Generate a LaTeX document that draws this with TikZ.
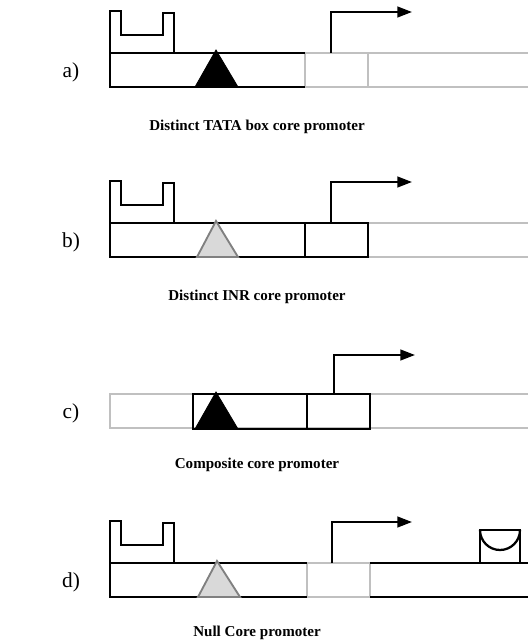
\documentclass[tikz,border=0pt]{standalone}
\usepackage{fontspec}
\setmainfont{Liberation Serif}
\usetikzlibrary{arrows.meta}
\definecolor{lgray}{HTML}{C0C0C0}
\definecolor{tgray}{HTML}{D9D9D9}
\definecolor{dgray}{HTML}{808080}
\tikzset{
  blk/.style={draw=black,line width=1.7pt},
  gry/.style={draw=lgray,line width=1.7pt},
  tri/.style={fill=black,draw=black,line width=0.6pt},
  gtri/.style={fill=tgray,draw=dgray,line width=1.4pt},
  tss/.style={draw=black,line width=1.7pt,-{Triangle[length=11pt,width=8pt]}},
  captxt/.style={font=\bfseries\fontsize{11.3}{13}\selectfont},
  lab/.style={font=\fontsize{16}{18}\selectfont}
}
\begin{document}
\begin{tikzpicture}[x=0.75pt,y=-0.75pt]
\useasboundingbox (0,0) rectangle (528,641);
% ---------- a)
\begin{scope}
\draw[gry] (305,53) rectangle (368,87);
\draw[gry] (368,53) -- (528,53) (368,87) -- (528,87);
\draw[blk] (305,53) -- (110,53) -- (110,87) -- (305,87);
\draw[blk] (110,53) -- (110,11) -- (121,11) -- (121,35) -- (163,35) -- (163,13) -- (174,13) -- (174,53);
\fill[tri] (195,87) -- (216,50) -- (238,87) -- cycle;
\coordinate (sa) at (331,53);
\coordinate (ea) at (412,12);
\draw[tss] (sa) |- (ea);
\node[lab] (la) at (71,72) {a)};
\node[captxt] (ca) at (257,127) {Distinct TATA box core promoter};
\end{scope}
% ---------- b)
\begin{scope}[shift={(0,170)}]
\draw[gry] (368,53) -- (528,53) (368,87) -- (528,87);
\draw[blk] (110,53) rectangle (368,87);
\draw[blk] (305,53) -- (305,87);
\draw[blk] (110,53) -- (110,11) -- (121,11) -- (121,35) -- (163,35) -- (163,13) -- (174,13) -- (174,53);
\filldraw[gtri] (197,87) -- (216,51) -- (238,87) -- cycle;
\coordinate (sb) at (331,53);
\coordinate (eb) at (412,12);
\draw[tss] (sb) |- (eb);
\node[lab] (lb) at (71,72) {b)};
\node[captxt] (cb) at (257,127) {Distinct INR core promoter};
\end{scope}
% ---------- c)
\begin{scope}[shift={(0,341)}]
\draw[gry] (528,53) -- (110,53) -- (110,87) -- (528,87);
\draw[blk] (193,53) rectangle (370,88);
\draw[blk] (307,53) -- (307,88);
\fill[tri] (195,88) -- (216,51) -- (238,88) -- cycle;
\coordinate (sc) at (334,53);
\coordinate (ec) at (415,14);
\draw[tss] (sc) |- (ec);
\node[lab] (lc) at (71,72) {c)};
\node[captxt] (cc) at (257,124) {Composite core promoter};
\end{scope}
% ---------- d)
\begin{scope}[shift={(0,510)}]
\draw[gry] (307,53) rectangle (370,87);
\draw[blk] (307,53) -- (110,53) -- (110,87) -- (307,87);
\draw[blk] (370,53) -- (528,53) (370,87) -- (528,87);
\draw[blk] (110,53) -- (110,11) -- (121,11) -- (121,35) -- (163,35) -- (163,13) -- (174,13) -- (174,53);
\filldraw[gtri] (198,87) -- (217,51) -- (240,87) -- cycle;
\draw[blk] (480,53) -- (480,20) -- (520,20) -- (520,53);
\draw[blk] (480,20) arc[start angle=180,end angle=0,radius=20];
\coordinate (sd) at (332,53);
\coordinate (ed) at (412,12);
\draw[tss] (sd) |- (ed);
\node[lab] (ld) at (71,72) {d)};
\node[captxt] (cd) at (257,123) {Null Core promoter};
\end{scope}
\end{tikzpicture}
\end{document}
